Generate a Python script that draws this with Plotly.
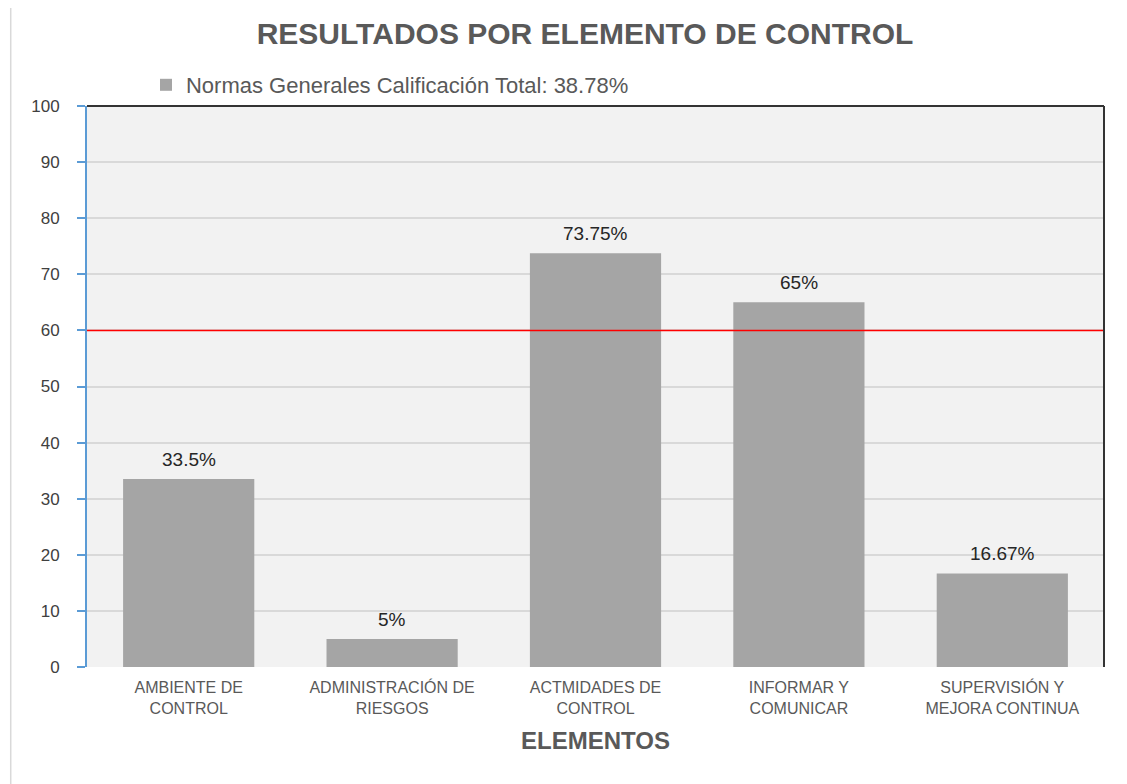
import plotly.graph_objects as go

categories = ["AMBIENTE DE<br>CONTROL", "ADMINISTRACIÓN DE<br>RIESGOS", "ACTMIDADES DE<br>CONTROL",
              "INFORMAR Y<br>COMUNICAR", "SUPERVISIÓN Y<br>MEJORA CONTINUA"]
values = [33.5, 5, 73.75, 65, 16.67]
labels = ["33.5%", "5%", "73.75%", "65%", "16.67%"]
series_name = "Normas Generales Calificación Total: 38.78%"
threshold = 60
y_ticks = [0, 10, 20, 30, 40, 50, 60, 70, 80, 90, 100]

fig = go.Figure()
fig.add_trace(go.Bar(
    x=categories, y=values, name=series_name,
    marker=dict(color="#a5a5a5", line=dict(width=0)),
    showlegend=True,
))

for c, v, t in zip(categories, values, labels):
    fig.add_annotation(x=c, y=v, text=t, showarrow=False, yanchor="bottom", yshift=7,
                       font=dict(family="Liberation Sans, Arial", size=19, color="#262626"))

fig.add_shape(type="line", xref="paper", yref="y", x0=0, x1=1, y0=threshold, y1=threshold,
              line=dict(color="#ff0000", width=1.5))
# top and right border
fig.add_shape(type="line", xref="paper", yref="paper", x0=0, x1=1, y0=1, y1=1,
              line=dict(color="#333333", width=2))
fig.add_shape(type="line", xref="paper", yref="paper", x0=1, x1=1, y0=0, y1=1,
              line=dict(color="#333333", width=2))
# outer left border line
fig.add_shape(type="line", xref="paper", yref="paper", x0=-0.075, x1=-0.075, y0=-0.25, y1=1.2,
              line=dict(color="#d9d9d9", width=1.5))

fig.update_layout(
    width=1127, height=784,
    margin=dict(l=79, r=31, t=98, b=125),
    paper_bgcolor="white", plot_bgcolor="#f2f2f2",
    bargap=0.355,
    title=dict(text="<b>RESULTADOS POR ELEMENTO DE CONTROL</b>", x=0.512, xanchor="center",
               y=0.967, yanchor="middle",
               font=dict(family="Liberation Sans, Arial", size=30, color="#595959")),
    legend=dict(orientation="h", x=0.058, xanchor="left", y=1.0, yanchor="bottom",
                font=dict(family="Liberation Sans, Arial", size=22, color="#595959"),
                itemwidth=30, bgcolor="rgba(0,0,0,0)"),
    xaxis=dict(
        tickfont=dict(family="Liberation Sans, Arial", size=16, color="#595959"),
        showgrid=False, showline=False, ticks="",
        ticklabelstandoff=9,
        title=dict(text="<b>ELEMENTOS</b>", standoff=16,
                   font=dict(family="Liberation Sans, Arial", size=24, color="#595959")),
    ),
    yaxis=dict(
        range=[0, 100], tickvals=y_ticks,
        tickfont=dict(family="Liberation Sans, Arial", size=17, color="#404040"),
        showgrid=True, gridcolor="#d9d9d9", gridwidth=1.5,
        showline=True, linecolor="#5b9bd5", linewidth=2,
        ticks="outside", ticklen=8, tickcolor="#5b9bd5", tickwidth=2,
        ticklabelstandoff=14,
        zeroline=False,
    ),
)

fig.write_html("out.html")
